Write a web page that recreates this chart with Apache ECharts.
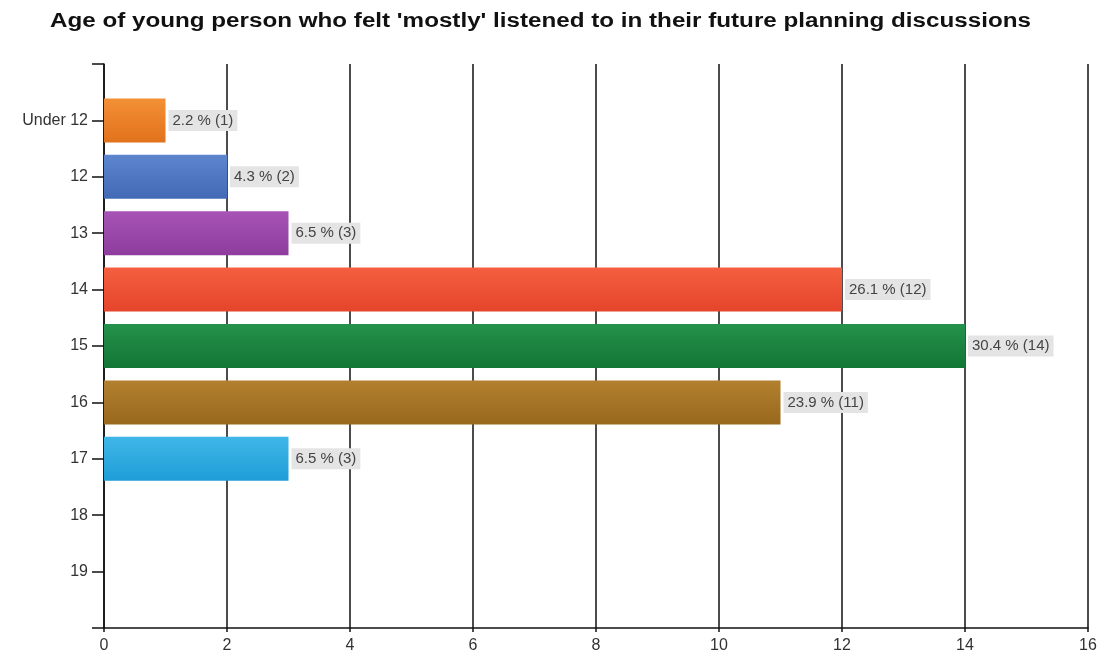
<!DOCTYPE html>
<html>
<head>
<meta charset="utf-8">
<title>Age of young person</title>
<script src="https://cdn.jsdelivr.net/npm/echarts@6/dist/echarts.min.js"></script>
<style>
  html, body { margin: 0; padding: 0; background: #fff; }
  #chart { width: 1105px; height: 654px; }
</style>
</head>
<body>
<div id="chart"></div>
<script>
// Age groups, respondent counts and share of all respondents (%)
const ageGroups = ['Under 12', '12', '13', '14', '15', '16', '17', '18', '19'];
const counts = [1, 2, 3, 12, 14, 11, 3, null, null];
const percents = [2.2, 4.3, 6.5, 26.1, 30.4, 23.9, 6.5, null, null];
const xTicks = [0, 2, 4, 6, 8, 10, 12, 14, 16];
const chartTitle = "Age of young person who felt 'mostly' listened to in their future planning discussions";

// Bar fill per age group: [top shade, bottom shade]
const barShades = [
  ['#f39036', '#e2721c'],
  ['#5d86cf', '#4269b5'],
  ['#a653b5', '#8e3d9e'],
  ['#f55f40', '#e4452b'],
  ['#24924b', '#127634'],
  ['#b3802f', '#98681d'],
  ['#40b6e8', '#1e9ed7'],
  ['#999', '#777'],
  ['#999', '#777']
];

const FONT = 'Liberation Sans, Arial, sans-serif';

// Blank slots before and after the ages give the half-band padding on the axis
const yCats = [''].concat(ageGroups, ['']);
const barData = [null].concat(counts.map((v, i) => v == null ? null : {
  value: v,
  pct: percents[i],
  itemStyle: {
    color: new echarts.graphic.LinearGradient(0, 0, 0, 1, [
      { offset: 0, color: barShades[i][0] },
      { offset: 1, color: barShades[i][1] }
    ])
  }
}), [null]);

const chart = echarts.init(document.getElementById('chart'));
chart.setOption({
  backgroundColor: '#ffffff',
  animation: false,
  // Title drawn as a wide, bold heading across the top
  graphic: [{
    type: 'text',
    x: 50,
    y: 11,
    scaleX: 1.21,
    style: {
      text: chartTitle,
      font: 'bold 20px ' + FONT,
      fill: '#111',
      textVerticalAlign: 'top'
    }
  }],
  grid: { left: 104, right: 17, top: 64, bottom: 26, containLabel: false },
  xAxis: {
    type: 'value',
    min: xTicks[0],
    max: xTicks[xTicks.length - 1],
    interval: 2,
    axisLine: { show: true, lineStyle: { color: '#111', width: 1.5 } },
    axisTick: { show: true, length: 4, lineStyle: { color: '#111', width: 1.5 } },
    axisLabel: {
      margin: 10,
      fontFamily: FONT,
      fontSize: 16,
      color: '#333'
    },
    splitLine: { show: true, lineStyle: { color: '#111', width: 1.5 } }
  },
  yAxis: {
    type: 'category',
    data: yCats,
    inverse: true,
    boundaryGap: false,
    axisLine: { show: true, lineStyle: { color: '#111', width: 1.5 } },
    axisTick: { show: true, length: 12, lineStyle: { color: '#111', width: 1.5 } },
    axisLabel: {
      margin: 16,
      interval: 0,
      fontFamily: FONT,
      fontSize: 16,
      color: '#333'
    },
    splitLine: { show: false }
  },
  series: [{
    type: 'bar',
    data: barData,
    barWidth: 44,
    label: {
      show: true,
      position: 'right',
      distance: 3,
      formatter: p => p.data && p.data.pct != null ? p.data.pct + ' % (' + p.data.value + ')' : '',
      fontFamily: FONT,
      fontSize: 15,
      color: '#444',
      backgroundColor: '#e4e4e4',
      padding: [3, 4, 3, 4]
    }
  }]
});
</script>
</body>
</html>
